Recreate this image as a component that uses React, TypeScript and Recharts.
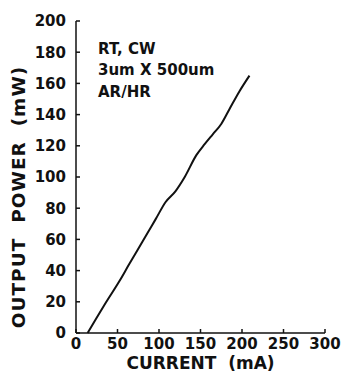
import React from "react";
import { LineChart, Line, XAxis, YAxis, Customized } from "recharts";

// L-I curve
const currentMA = [14, 24, 36, 52, 64, 74, 86, 96, 108, 120, 131, 145, 155, 165, 175, 185, 197, 209];
const powerMW = [0, 9, 19.5, 33, 44, 53, 64, 73, 84, 91, 100, 114, 121, 127.5, 134, 143.6, 155, 165];

const xTicks = [0, 50, 100, 150, 200, 250, 300];
const yTicks = [0, 20, 40, 60, 80, 100, 120, 140, 160, 180, 200];
const notes = ["RT, CW", "3um X 500um", "AR/HR"];
const yTitle = "OUTPUT\u00a0\u00a0POWER\u00a0\u00a0(mW)";
const xTitle = "CURRENT\u00a0\u00a0(mA)";

const data = currentMA.map((c, i) => ({ current: c, power: powerMW[i] }));

const font = "'DejaVu Sans', sans-serif";
const ink = "#111";
const tickStyle = { fill: ink, fontSize: 15, fontWeight: 700, fontFamily: font };

// free text: the run conditions inside the frame and the rotated y title
function Notes() {
  return (
    <g fill={ink} fontWeight={700} fontFamily={font}>
      {notes.map((t, i) => (
        <text key={t} x={98} y={53.5 + i * 21.5} fontSize={15}>
          {t}
        </text>
      ))}
      <text
        transform="translate(25,197) rotate(-90)"
        textAnchor="middle"
        fontSize={18.5}
        letterSpacing={1}
      >
        {yTitle}
      </text>
    </g>
  );
}

export default function App() {
  return (
    <div style={{ position: "absolute", left: 0, top: 0, background: "#fff" }}>
      <LineChart
        width={344}
        height={383}
        data={data}
        margin={{ top: 21, right: 19, bottom: 20, left: 36 }}
      >
        <XAxis
          dataKey="current"
          type="number"
          domain={[0, 300]}
          ticks={xTicks}
          interval={0}
          height={30}
          tickSize={-4}
          tickMargin={9}
          stroke={ink}
          strokeWidth={1.5}
          tick={tickStyle}
          label={{
            value: xTitle,
            position: "bottom",
            offset: -6,
            style: { fill: ink, fontSize: 17, fontWeight: 700, fontFamily: font },
          }}
        />
        <XAxis xAxisId="top" orientation="top" dataKey="current" type="number" domain={[0, 300]} height={0} tick={false} tickLine={false} stroke={ink} strokeWidth={1.5} />
        <YAxis
          type="number"
          domain={[0, 200]}
          ticks={yTicks}
          interval={0}
          width={40}
          tickSize={-4}
          tickMargin={14}
          stroke={ink}
          strokeWidth={1.5}
          tick={tickStyle}
        />
        <YAxis yAxisId="right" orientation="right" domain={[0, 200]} width={0} tick={false} tickLine={false} stroke={ink} strokeWidth={1.5} />
        <Line
          type="monotone"
          dataKey="power"
          stroke={ink}
          strokeWidth={2}
          dot={false}
          isAnimationActive={false}
        />
        <Customized component={Notes} />
      </LineChart>
    </div>
  );
}
